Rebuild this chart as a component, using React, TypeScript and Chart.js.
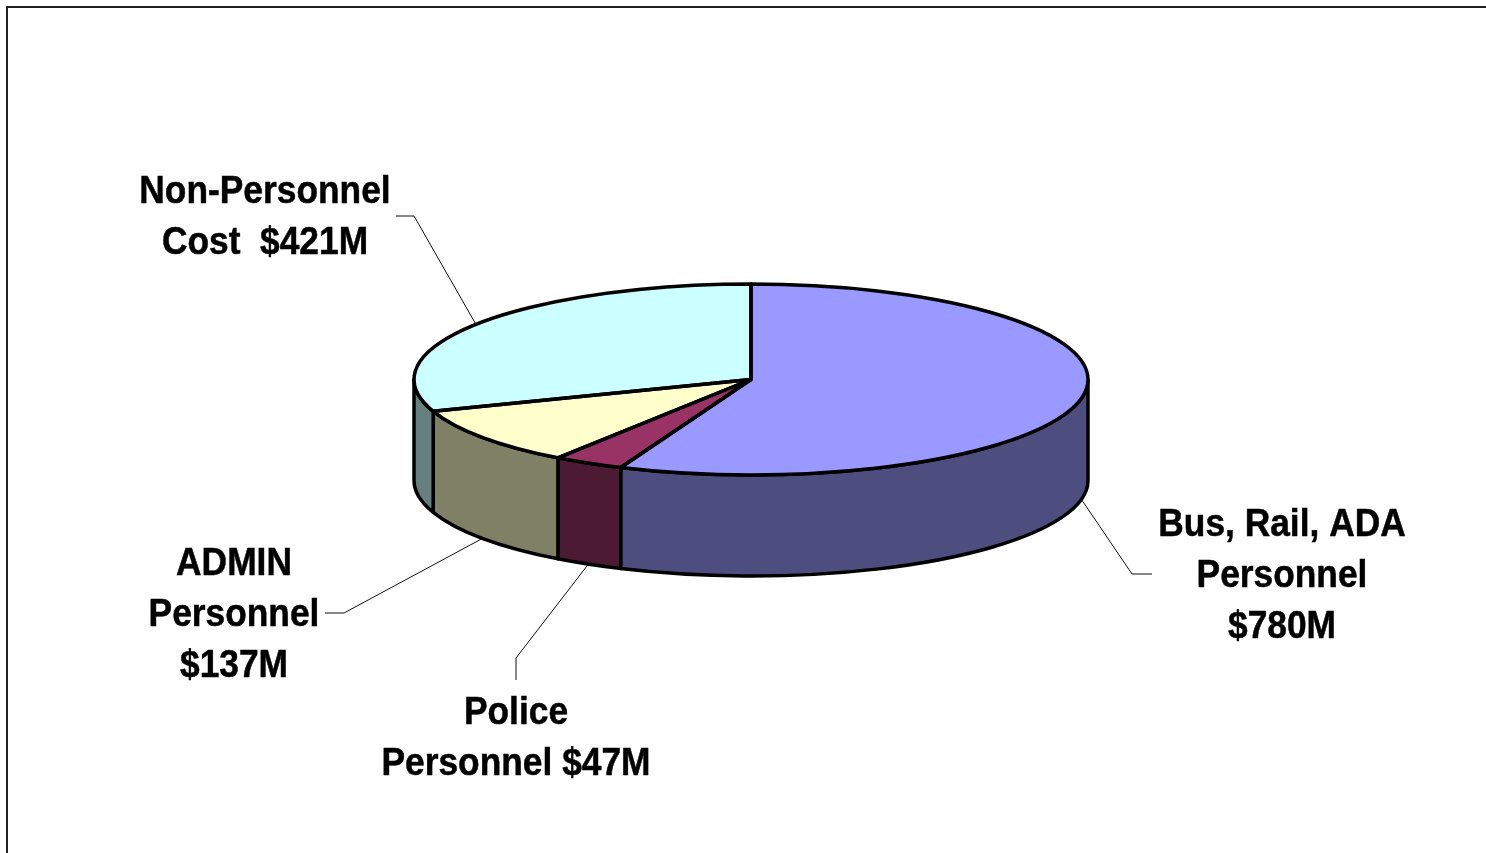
import React, { useEffect, useRef } from "react";
import { Chart, registerables } from "chart.js";

Chart.register(...registerables);

// Budget split, clockwise from twelve o'clock.
const categories = ["Bus, Rail, ADA Personnel", "Police Personnel", "ADMIN Personnel", "Non-Personnel Cost"];
const amounts = [780, 47, 137, 421];
const calloutText = [
  ["Bus, Rail, ADA", "Personnel", "$780M"],
  ["Police", "Personnel $47M"],
  ["ADMIN", "Personnel", "$137M"],
  ["Non-Personnel", "Cost  $421M"],
];

const topColors = ["#9999FF", "#993366", "#FFFFCC", "#CCFFFF"];
const wallColors = ["#4D4D80", "#4D1A33", "#808066", "#668080"];

// Geometry of the tilted disc.
const W = 1486;
const H = 853;
const CX = 751;
const CY = 379.5;
const RX = 337;
const RY = 95.5;
const DEPTH = 101;
const OUTLINE = 3.5;

// Callout placement: centre x and first baseline of the text, elbow and tail of the leader.
// wall: whether the leader starts on the lower rim rather than the upper one.
const callouts = [
  { textX: 1282, baseline: 536, elbow: [1132, 574], tail: [1152, 574], wall: true },
  { textX: 516, baseline: 724, elbow: [516, 658], tail: [516, 680], wall: true },
  { textX: 234, baseline: 575, elbow: [344, 613], tail: [325, 613], wall: true },
  { textX: 265, baseline: 203, elbow: [414, 216], tail: [396, 216], wall: false },
];
const LINE_STEP = 51;
const TEXT_SQUEEZE = 0.93;

const tiltedPie = {
  id: "tiltedPie",
  beforeDraw(chart: any) {
    const { ctx, width, height } = chart;
    ctx.save();
    ctx.fillStyle = "#FFFFFF";
    ctx.fillRect(0, 0, width, height);
    // Frame, open towards the right and bottom edges of the canvas.
    ctx.strokeStyle = "#222222";
    ctx.lineWidth = 2;
    ctx.beginPath();
    ctx.moveTo(7, height);
    ctx.lineTo(7, 7);
    ctx.lineTo(width, 7);
    ctx.stroke();
    ctx.restore();
  },
  beforeDatasetsDraw(chart: any) {
    const { ctx } = chart;
    const arcs = chart.getDatasetMeta(0).data;
    // Cylinder wall: only the part of each slice facing the viewer (0 to PI).
    ctx.save();
    ctx.lineWidth = OUTLINE;
    ctx.lineJoin = "round";
    ctx.strokeStyle = "#000000";
    arcs.forEach((arc: any, i: number) => {
      const from = Math.max(arc.startAngle, 0);
      const to = Math.min(arc.endAngle, Math.PI);
      if (to <= from) return;
      ctx.beginPath();
      ctx.ellipse(CX, CY, RX, RY, 0, from, to);
      ctx.ellipse(CX, CY + DEPTH, RX, RY, 0, to, from, true);
      ctx.closePath();
      ctx.fillStyle = wallColors[i];
      ctx.fill();
      ctx.stroke();
    });
    ctx.restore();
    // The library's arcs are drawn round and flattened by this transform.
    ctx.save();
    ctx.translate(CX, CY);
    ctx.scale(1, RY / RX);
    ctx.translate(-CX, -CY);
  },
  afterDatasetsDraw(chart: any) {
    const { ctx } = chart;
    ctx.restore();
    const arcs = chart.getDatasetMeta(0).data;
    ctx.save();
    ctx.lineWidth = OUTLINE;
    ctx.lineJoin = "round";
    ctx.strokeStyle = "#000000";
    arcs.forEach((arc: any) => {
      ctx.beginPath();
      ctx.moveTo(CX, CY);
      ctx.ellipse(CX, CY, RX, RY, 0, arc.startAngle, arc.endAngle);
      ctx.closePath();
      ctx.stroke();
    });
    ctx.restore();

    // Leaders run from the rim at each slice's mid angle.
    ctx.save();
    ctx.lineWidth = 1;
    ctx.strokeStyle = "#111111";
    arcs.forEach((arc: any, i: number) => {
      const c = callouts[i];
      const mid = (arc.startAngle + arc.endAngle) / 2;
      ctx.beginPath();
      ctx.moveTo(CX + RX * Math.cos(mid), CY + RY * Math.sin(mid) + (c.wall ? DEPTH : 0));
      ctx.lineTo(c.elbow[0], c.elbow[1]);
      ctx.lineTo(c.tail[0], c.tail[1]);
      ctx.stroke();
    });
    ctx.fillStyle = "#000000";
    ctx.strokeStyle = "#000000";
    ctx.lineWidth = 0.5;
    ctx.textAlign = "center";
    ctx.textBaseline = "alphabetic";
    ctx.font = 'bold 38px "Liberation Sans", Arial, sans-serif';
    calloutText.forEach((lines, i) => {
      const c = callouts[i];
      lines.forEach((line, j) => {
        const squeezed = ctx.measureText(line).width * TEXT_SQUEEZE;
        const y = c.baseline + j * LINE_STEP;
        ctx.fillText(line, c.textX, y, squeezed);
        ctx.strokeText(line, c.textX, y, squeezed);
      });
    });
    ctx.restore();
  },
};

export default function App() {
  const canvasRef = useRef<HTMLCanvasElement | null>(null);

  useEffect(() => {
    document.body.style.margin = "0";
    const chart = new Chart(canvasRef.current as HTMLCanvasElement, {
      type: "pie",
      data: {
        labels: categories,
        datasets: [{ data: amounts, backgroundColor: topColors, borderWidth: 0, clip: false } as any],
      },
      options: {
        responsive: false,
        animation: false,
        layout: {
          padding: {
            left: CX - RX,
            right: W - CX - RX,
            top: CY - RX,
            bottom: H - CY - RX,
          },
        },
        plugins: { legend: { display: false }, tooltip: { enabled: false } },
      },
      plugins: [tiltedPie],
    });
    return () => chart.destroy();
  }, []);

  return <canvas ref={canvasRef} width={W} height={H} style={{ display: "block" }} />;
}
